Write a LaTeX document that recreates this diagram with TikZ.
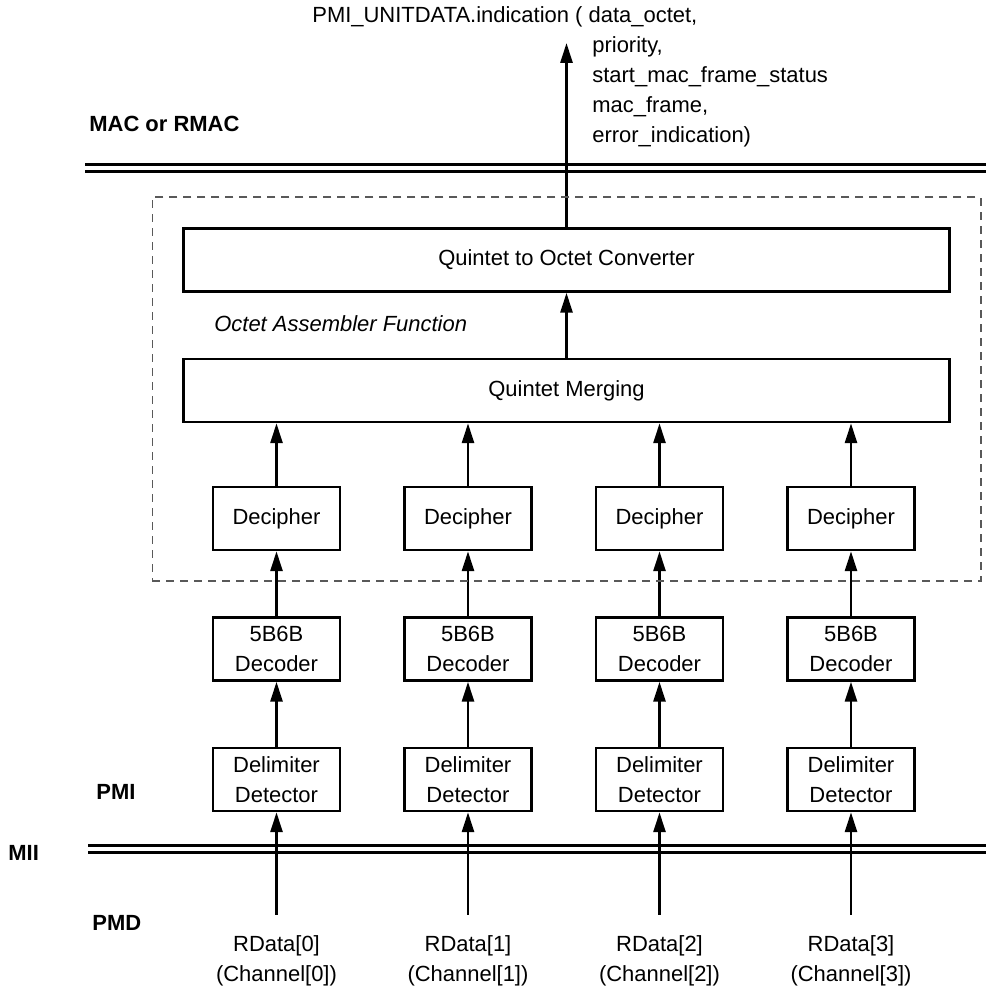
\documentclass[tikz,border=0pt]{standalone}
\usepackage{fontspec}
\setmainfont{Liberation Sans}
\usetikzlibrary{positioning,arrows.meta,fit}

\begin{document}
\begin{tikzpicture}[
      font=\fontsize{12.5}{17}\selectfont,
      blk/.style={draw, line width=0.05cm, minimum width=2.54cm,
                  minimum height=1.26cm, align=center, inner sep=0pt},
      wide/.style={blk, minimum width=15.32cm},
      lay/.style={font=\fontsize{12.5}{17}\selectfont\bfseries,
                  anchor=base west, inner sep=0pt},
      txt/.style={anchor=base west, inner sep=0pt},
      bus/.style={double, line width=0.054cm, double distance=0.092cm},
      flow/.style={->, line width=0.055cm},
      node distance=1.3cm,
      >={Triangle[length=0.4cm, width=0.24cm]}
    ]
    \useasboundingbox (0,0) rectangle (19.72,19.76);

    % layer boundaries
    \draw[bus] (1.7,16.4) -- (19.72,16.4);
    \draw[bus] (1.76,2.78) -- (19.72,2.78);

    \node[lay] (mac) at (1.78,17.12) {MAC or RMAC};
    \node[lay] (pmi) at (1.92,3.76)  {PMI};
    \node[lay] (mii) at (0.16,2.54)  {MII};
    \node[lay] (pmd) at (1.84,1.16)  {PMD};

    % service primitive
    \node[txt] (prim) at (6.24,19.3) {PMI\_UNITDATA.indication ( data\_octet,};
    \foreach \t [count=\k] in {{priority,},{start\_mac\_frame\_status},
                               {mac\_frame,},{error\_indication)}}
      \node[txt] (arg\k) at (11.84,19.3-0.6*\k) {\t};

    % octet assembler
    \node[wide] (qm) at (11.33,11.95) {Quintet Merging};
    \node[wide, above=of qm] (qoc) {Quintet to Octet Converter};
    \coordinate (out) at (11.33,18.9);
    \draw[flow] (qm) -- (qoc);
    \draw[flow] (qoc) -- (out);

    % one receive path per channel
    \foreach \i/\x in {0/5.53, 1/9.36, 2/13.19, 3/17.02} {
      \node[blk] (dec\i) at (\x,9.39) {Decipher};
      \node[blk, below=of dec\i] (cod\i) {5B6B\\Decoder};
      \node[blk, below=of cod\i] (det\i) {Delimiter\\Detector};
      \coordinate (in\i) at (\x,1.46);
      \node[anchor=north, inner sep=0pt, align=center] (rd\i) at (\x,1.05)
        {RData[\i]\\(Channel[\i])};
      \draw[flow] (in\i) -- (det\i);
      \draw[flow] (det\i) -- (cod\i);
      \draw[flow] (cod\i) -- (dec\i);
      \draw[flow] (dec\i.north) -- (dec\i.north |- qm.south);
    }

    % function boundary
    \node[fit=(qoc)(dec0)(dec3), inner sep=0.6cm, draw, line width=0.03cm,
          gray!70!black, dash pattern=on 0.16cm off 0.12cm] (oaf) {};
    \node[txt, font=\fontsize{12.5}{17}\selectfont\itshape] (oaflbl)
      at (4.28,13.12) {Octet Assembler Function};
  \end{tikzpicture}
\end{document}
